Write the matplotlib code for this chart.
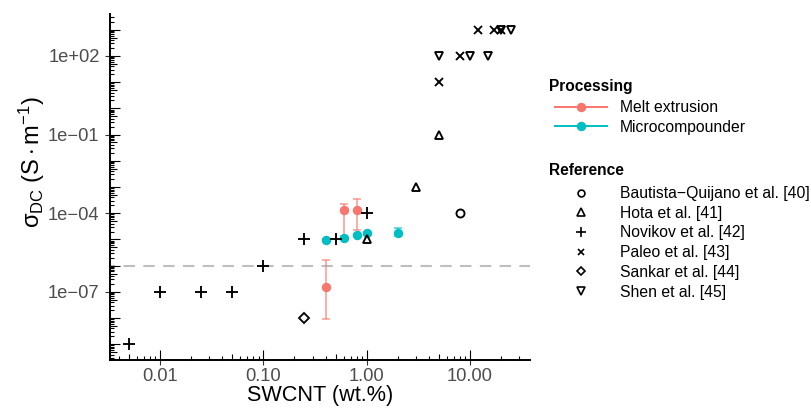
import numpy as np
import matplotlib
matplotlib.use("Agg")
import matplotlib.pyplot as plt
import matplotlib.transforms as mtransforms
from matplotlib.lines import Line2D
from matplotlib.ticker import FixedLocator, NullLocator, FixedFormatter

plt.rcParams['font.family'] = ['Liberation Sans', 'DejaVu Sans']
plt.rcParams['mathtext.fontset'] = 'custom'
plt.rcParams['mathtext.rm'] = 'Liberation Sans'
plt.rcParams['mathtext.it'] = 'Liberation Sans:italic'
plt.rcParams['mathtext.bf'] = 'Liberation Sans:bold'
plt.rcParams['axes.unicode_minus'] = True

# ---------------- data ----------------
# Processing (this work)
melt_x = [0.4, 0.6, 0.8]
melt_y = [1.5e-7, 1.3e-4, 1.3e-4]
melt_lo = [9e-9, 1.15e-5, 2.2e-5]
melt_hi = [1.7e-6, 2.3e-4, 3.5e-4]

micro_x = [0.4, 0.6, 0.8, 1.0, 2.0]
micro_y = [9.5e-6, 1.15e-5, 1.45e-5, 1.7e-5, 1.75e-5]
micro_lo = [8.5e-6, 1.05e-5, 1.3e-5, 1.55e-5, 1.3e-5]
micro_hi = [1.05e-5, 1.3e-5, 1.6e-5, 1.9e-5, 2.7e-5]

# Literature references
bq_x = [8.0]
bq_y = [1e-4]
hota_x = [1.0, 3.0, 5.0]
hota_y = [1e-5, 1e-3, 1e-1]
nov_x = [0.005, 0.01, 0.025, 0.05, 0.1, 0.25, 0.5, 1.0]
nov_y = [1e-9, 1e-7, 1e-7, 1e-7, 1e-6, 1e-5, 1e-5, 1e-4]
paleo_x = [5.0, 8.0, 12.0, 17.0, 20.0]
paleo_y = [10.0, 100.0, 1000.0, 1000.0, 1000.0]
sankar_x = [0.25]
sankar_y = [1e-8]
shen_x = [5.0, 10.0, 15.0, 20.0, 25.0]
shen_y = [100.0, 100.0, 100.0, 1000.0, 1000.0]

threshold = 1e-6

x_ticks = [0.01, 0.1, 1.0, 10.0]
x_labels = ["0.01", "0.10", "1.00", "10.00"]
y_ticks = [1e2, 1e-1, 1e-4, 1e-7]
y_labels = ["1e+02", "1e\u221201", "1e\u221204", "1e\u221207"]

proc_labels = ["Melt extrusion", "Microcompounder"]
ref_labels = ["Bautista\u2212Quijano et al. [40]", "Hota et al. [41]",
              "Novikov et al. [42]", "Paleo et al. [43]",
              "Sankar et al. [44]", "Shen et al. [45]"]

RED = "#F8766D"
CYAN = "#00BFC4"

# ---------------- figure ----------------
W, H = 811, 408
fig = plt.figure(figsize=(W / 100, H / 100), dpi=100)
ax = fig.add_axes([110 / W, 1 - 360 / H, 420 / W, 346 / H])
ax.set_xscale('log')
ax.set_yscale('log')
ax.set_xlim(10 ** -2.486, 10 ** 1.583)
ax.set_ylim(10 ** -9.6, 10 ** 3.6)

for s in ['top', 'right']:
    ax.spines[s].set_visible(False)
for s in ['left', 'bottom']:
    ax.spines[s].set_linewidth(1.4)
    ax.spines[s].set_color('black')

ax.xaxis.set_major_locator(FixedLocator(x_ticks))
ax.xaxis.set_major_formatter(FixedFormatter(x_labels))
ax.yaxis.set_major_locator(FixedLocator(y_ticks))
ax.yaxis.set_major_formatter(FixedFormatter(y_labels))
ax.xaxis.set_minor_locator(NullLocator())
ax.yaxis.set_minor_locator(NullLocator())
ax.tick_params(axis='both', which='major', direction='out', length=3.5,
               width=0.8, color='#333333', labelcolor='#4D4D4D', labelsize=13.2)
ax.tick_params(axis='x', pad=2.0)
ax.tick_params(axis='y', pad=4)

# annotation log ticks (inside)
px_w = 420.0
px_h = 346.0
xmin, xmax = ax.get_xlim()
ymin, ymax = ax.get_ylim()
bx = mtransforms.blended_transform_factory(ax.transData, ax.transAxes)
by = mtransforms.blended_transform_factory(ax.transAxes, ax.transData)
for dec in range(-4, 4):
    for m in range(1, 10):
        v = m * 10.0 ** dec
        L = 10.0 if m == 1 else (6.5 if m == 5 else 3.8)
        if xmin <= v <= xmax:
            ax.plot([v, v], [0, L / px_h], transform=bx, color='black', lw=0.8,
                    clip_on=False, solid_capstyle='butt', zorder=2)
for dec in range(-10, 4):
    for m in range(1, 10):
        v = m * 10.0 ** dec
        L = 10.0 if m == 1 else (6.5 if m == 5 else 3.8)
        if ymin <= v <= ymax:
            ax.plot([0, L / px_w], [v, v], transform=by, color='black', lw=0.8,
                    clip_on=False, solid_capstyle='butt', zorder=2)

# threshold line
ax.axhline(threshold, color='#BEBEBE', lw=1.5, ls=(3, (5.5, 4.0)), zorder=1)

# processing series with error bars
def draw_series(x, y, lo, hi, color):
    y = np.array(y)
    err = [y - np.array(lo), np.array(hi) - y]
    ax.errorbar(x, y, yerr=err, fmt='none', ecolor=color, alpha=0.75,
                elinewidth=1.1, capsize=3, capthick=1.1, zorder=3)
    ax.plot(x, y, 'o', color=color, ms=6.8, mec='none', zorder=4)

draw_series(melt_x, melt_y, melt_lo, melt_hi, RED)
draw_series(micro_x, micro_y, micro_lo, micro_hi, CYAN)

# references
ref_style = dict(color='black', mfc='none', ls='none', mew=1.35, zorder=5)
ref_sets = [(bq_x, bq_y, 'o', 5.8), (hota_x, hota_y, '^', 6.3), (nov_x, nov_y, '+', 8.0),
            (paleo_x, paleo_y, 'x', 5.8), (sankar_x, sankar_y, 'D', 4.6),
            (shen_x, shen_y, 'v', 6.3)]
ref_handles = []
for xs, ys, mk, ms in ref_sets:
    ax.plot(xs, ys, marker=mk, ms=ms, **ref_style)
    ref_handles.append(Line2D([], [], marker=mk, ms=ms * 0.85, color='black', mfc='none',
                              ls='none', mew=1.2))

# axis titles
fig.text(320 / W, 1 - 400.5 / H, "SWCNT (wt.%)", ha='center', va='baseline', fontsize=15.6)
fig.text(32 / W, 1 - 162 / H, r'$\mathrm{\sigma_{DC}\ (S \cdot m^{-1})}$', rotation=90,
         ha='center', va='center', fontsize=17)

# legends
proc_handles = [Line2D([], [], color=RED, lw=1.4, marker='o', ms=6.8, mec='none'),
                Line2D([], [], color=CYAN, lw=1.4, marker='o', ms=6.8, mec='none')]
fig.text(549 / W, 1 - 86 / H, "Processing", ha='left', va='center', fontsize=11.2,
         fontweight='bold')
leg1 = fig.legend(proc_handles, proc_labels, loc='upper left',
                  bbox_to_anchor=(555 / W, 1 - 100 / H), frameon=False, fontsize=11.3,
                  handlelength=3.3, handletextpad=0.85, borderpad=0, borderaxespad=0,
                  labelspacing=0.3)
fig.text(549 / W, 1 - 170 / H, "Reference", ha='left', va='center', fontsize=11.2,
         fontweight='bold')
leg2 = fig.legend(ref_handles, ref_labels, loc='upper left',
                  bbox_to_anchor=(555 / W, 1 - 186 / H), frameon=False, fontsize=11.3,
                  handlelength=3.3, handletextpad=0.85, borderpad=0, borderaxespad=0,
                  labelspacing=0.3)

fig.savefig("out.png", dpi=100)
